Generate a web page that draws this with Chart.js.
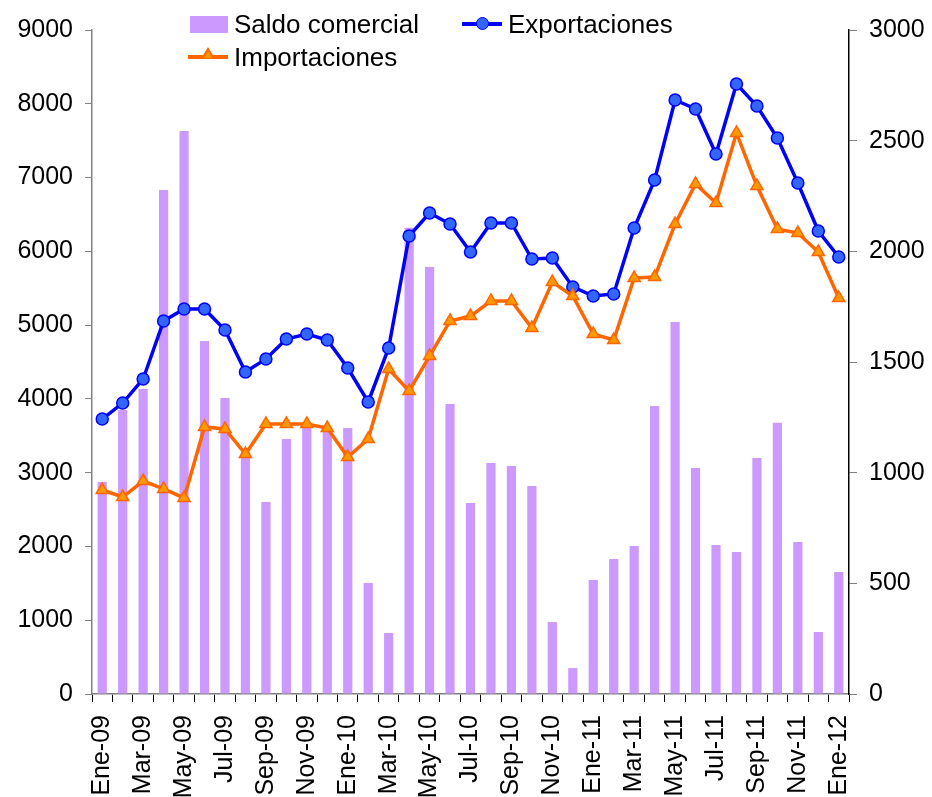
<!DOCTYPE html>
<html>
<head>
<meta charset="utf-8">
<script src="https://cdn.jsdelivr.net/npm/chart.js@4.4.0/dist/chart.umd.min.js"></script>
<style>
  body { margin: 0; background: #fff; }
  #wrap { position: relative; width: 932px; height: 797px; }
  .legend { position: absolute; font-family: "Liberation Sans", Arial, sans-serif; font-size: 26px; color: #000; line-height: 26px; white-space: nowrap; }
  .legend span.txt { position: absolute; top: 0; }
  .sw { position: absolute; }
</style>
</head>
<body>
<div id="wrap">
  <canvas id="tradeChart"></canvas>

  <!-- legend -->
  <div class="legend" style="left:190px; top:11px;">
    <div class="sw" style="left:0; top:5px; width:38px; height:17px; background:#CC99FF;"></div>
    <span class="txt" style="left:44px;">Saldo comercial</span>
  </div>
  <div class="legend" style="left:462px; top:11px;">
    <div class="sw" style="left:0; top:11px; width:40px; height:4px; background:#0000FF;"></div>
    <div class="sw" style="left:14px; top:6px; width:11px; height:11px; border-radius:50%; background:#3366FF; border:1.5px solid #0000FF;"></div>
    <span class="txt" style="left:46px;">Exportaciones</span>
  </div>
  <div class="legend" style="left:188px; top:44px;">
    <div class="sw" style="left:0; top:11px; width:40px; height:4px; background:#FF6600;"></div>
    <div class="sw" style="left:13px; top:3px; width:0; height:0; border-left:7px solid transparent; border-right:7px solid transparent; border-bottom:12px solid #FF6600;"></div>
    <div class="sw" style="left:16px; top:6.5px; width:0; height:0; border-left:4px solid transparent; border-right:4px solid transparent; border-bottom:7px solid #FF9900;"></div>
    <span class="txt" style="left:46px;">Importaciones</span>
  </div>
</div>

<script>
// months Ene-09 .. Ene-12
const months = ['Ene-09', 'Feb-09', 'Mar-09', 'Abr-09', 'May-09', 'Jun-09', 'Jul-09', 'Ago-09', 'Sep-09', 'Oct-09', 'Nov-09', 'Dic-09',
                'Ene-10', 'Feb-10', 'Mar-10', 'Abr-10', 'May-10', 'Jun-10', 'Jul-10', 'Ago-10', 'Sep-10', 'Oct-10', 'Nov-10', 'Dic-10',
                'Ene-11', 'Feb-11', 'Mar-11', 'Abr-11', 'May-11', 'Jun-11', 'Jul-11', 'Ago-11', 'Sep-11', 'Oct-11', 'Nov-11', 'Dic-11',
                'Ene-12'];

// right axis
const saldoComercial = [958, 1283, 1378, 2277, 2544, 1595, 1337, 1093, 868, 1152, 1202, 1184,
                        1202, 502, 276, 2106, 1929, 1310, 863, 1044, 1030, 940, 325, 117,
                        515, 610, 669, 1301, 1681, 1021, 673, 642, 1066, 1225, 687, 280,
                        551];

// left axis
const exportaciones = [3727, 3944, 4270, 5056, 5218, 5218, 4934, 4364, 4541, 4812, 4879, 4798,
                       4419, 3958, 4690, 6208, 6520, 6370, 5991, 6384, 6384, 5896, 5910, 5517,
                       5394, 5422, 6316, 6967, 8051, 7929, 7319, 8268, 7970, 7536, 6926, 6275,
                       5923];

const importaciones = [2765, 2670, 2887, 2779, 2657, 3619, 3592, 3253, 3660, 3660, 3660, 3605,
                       3212, 3456, 4405, 4107, 4581, 5056, 5123, 5327, 5327, 4961, 5584, 5394,
                       4879, 4798, 5638, 5652, 6370, 6913, 6655, 7604, 6885, 6303, 6248, 5991,
                       5367];

const leftTicks = [0, 1000, 2000, 3000, 4000, 5000, 6000, 7000, 8000, 9000];
const rightTicks = [0, 500, 1000, 1500, 2000, 2500, 3000];

const fontFamily = '"Liberation Sans", Arial, sans-serif';
const tickFont = { family: fontFamily, size: 25 };

const ctx = document.getElementById('tradeChart').getContext('2d');

new Chart(ctx, {
    type: 'bar',
    data: {
        labels: months,
        datasets: [
            {
                type: 'line',
                label: 'Exportaciones',
                data: exportaciones,
                yAxisID: 'y',
                borderColor: '#0000FF',
                borderWidth: 3.5,
                pointStyle: 'circle',
                pointRadius: 6,
                pointBackgroundColor: '#3366FF',
                pointBorderColor: '#0000FF',
                pointBorderWidth: 1.5,
                tension: 0,
                order: 2
            },
            {
                type: 'line',
                label: 'Importaciones',
                data: importaciones,
                yAxisID: 'y',
                borderColor: '#FF6600',
                borderWidth: 3.5,
                pointStyle: 'triangle',
                pointRadius: 7,
                pointBackgroundColor: '#FF9900',
                pointBorderColor: '#FF6600',
                pointBorderWidth: 1.5,
                tension: 0,
                order: 1
            },
            {
                label: 'Saldo comercial',
                data: saldoComercial,
                yAxisID: 'y1',
                backgroundColor: '#CC99FF',
                categoryPercentage: 1.0,
                barPercentage: 0.45,
                order: 3
            }
        ]
    },
    options: {
        responsive: true,
        maintainAspectRatio: false,
        animation: false,
        layout: { padding: { top: 30, left: 0, right: 0, bottom: 0 } },
        plugins: {
            legend: { display: false },
            tooltip: { enabled: false }
        },
        scales: {
            x: {
                offset: true,
                afterFit: function(scale) { scale.height = 103; },
                grid: {
                    offset: true,
                    drawOnChartArea: false,
                    drawTicks: true,
                    tickLength: 8,
                    color: '#000'
                },
                border: { color: '#808080', width: 1.5 },
                ticks: {
                    autoSkip: false,
                    minRotation: 90,
                    maxRotation: 90,
                    padding: 13,
                    color: '#000',
                    font: tickFont,
                    callback: function(value, index) {
                        return index % 2 === 0 ? months[index] : '';
                    }
                }
            },
            y: {
                position: 'left',
                min: 0,
                max: 9000,
                afterFit: function(scale) { scale.width = 92; },
                afterBuildTicks: function(scale) {
                    scale.ticks = leftTicks.map(v => ({ value: v }));
                },
                grid: {
                    drawOnChartArea: false,
                    drawTicks: true,
                    tickLength: 7,
                    color: '#808080'
                },
                border: { color: '#808080', width: 1.5 },
                ticks: {
                    padding: 12,
                    color: '#000',
                    font: tickFont,
                    callback: function(value) { return String(value); }
                }
            },
            y1: {
                position: 'right',
                min: 0,
                max: 3000,
                afterFit: function(scale) { scale.width = 83; },
                afterBuildTicks: function(scale) {
                    scale.ticks = rightTicks.map(v => ({ value: v }));
                },
                grid: {
                    drawOnChartArea: false,
                    drawTicks: true,
                    tickLength: 8,
                    color: '#808080'
                },
                border: { color: '#000', width: 1.5 },
                ticks: {
                    padding: 12,
                    color: '#000',
                    font: tickFont,
                    callback: function(value) { return String(value); }
                }
            }
        }
    }
});
</script>
</body>
</html>
